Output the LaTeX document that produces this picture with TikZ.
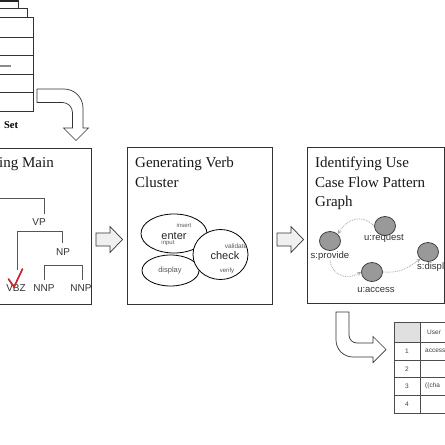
\documentclass[tikz,border=0pt]{standalone}
\usepackage{fontspec}
\setmainfont{Liberation Serif}
\newfontfamily\sansf{Liberation Sans}
\usetikzlibrary{shapes.geometric,arrows.meta}
\definecolor{edgecol}{HTML}{333333}
\definecolor{treeline}{HTML}{555555}
\definecolor{chk}{HTML}{C0282D}
\tikzset{
  box/.style={draw=edgecol, line width=0.8pt},
  title/.style={anchor=base west, inner sep=0pt, font=\fontsize{15}{20}\selectfont, text=black!90},
  tlab/.style={inner sep=0pt, font=\sansf\fontsize{10}{11}\selectfont, text=black!80},
  tline/.style={draw=treeline, line width=0.6pt},
  oval/.style={ellipse, draw=black, line width=0.8pt, fill=white, inner sep=0pt},
  big/.style={inner sep=0pt, font=\sansf\fontsize{11}{12}\selectfont, text=black!85},
  small/.style={inner sep=0pt, font=\sansf\fontsize{6}{7}\selectfont, text=black!65},
  gnode/.style={ellipse, draw=black!75, fill=black!40, line width=0.8pt, minimum width=21pt, minimum height=19pt, inner sep=0pt},
  glab/.style={inner sep=0pt, font=\sansf\fontsize{9.5}{10}\selectfont, text=black!80},
  flow/.style={draw=black!35, densely dotted, line width=0.8pt, -{Stealth[open,length=4pt,width=4pt]}},
  hollow/.style={draw=black!80, line width=0.7pt, fill=white},
  blockarr/.style={draw=black!80, line width=0.7pt, fill=black!6},
  cell/.style={inner sep=0pt, font=\sansf\fontsize{6.5}{7}\selectfont, text=black!75},
  tab/.style={draw=black!70, line width=0.6pt},
  stackline/.style={draw=edgecol, line width=0.8pt}
}
\begin{document}
\begin{tikzpicture}[x=1pt,y=-1pt]
\useasboundingbox (0,0) rectangle (445,445);
\fill[white] (0,0) rectangle (445,445);
\clip (0,0) rectangle (445,445);

% document stack
\fill[black!85] (-2,-2) rectangle (18,2);
\draw[stackline] (18,0) -- (18,8);
\draw[stackline] (-2,8) -- (27,8) -- (27,17.5);
\draw[stackline] (-2,17.5) -- (33,17.5) -- (33,111) -- (-2,111);
\foreach \yy in {37,55.5,74,92.5} \draw[stackline] (-2,\yy) -- (33,\yy);
\fill[black!45] (-2,64.8) rectangle (11,67.2);
\node[inner sep=0pt, font=\bfseries\fontsize{10.5}{11}\selectfont] (setlab) at (11,125) {Set};

% curved hollow arrow 1
\draw[hollow] (37,89) -- (64,89) .. controls (74.5,89) and (83,97.5) .. (83,108) -- (83,128) -- (88.5,128) -- (76,140.5) -- (63.5,128) -- (72.5,128) -- (72.5,112.5) .. controls (72.5,107) and (68,102.5) .. (62.5,102.5) -- (37,102.5) -- cycle;

% box 1
\draw[box] (-5,148) rectangle (91,304);
\node[title] (t1) at (-1,167) {ing Main};
\node[tlab] (vp) at (39,222) {VP};
\node[tlab] (np) at (63,252) {NP};
\node[tlab] (vbz) at (16,288) {VBZ};
\node[tlab] (nnp1) at (44,288) {NNP};
\node[tlab] (nnp2) at (81,288) {NNP};
\draw[tline] (-5,198) -- (44,198) -- (44,214);
\draw[tline] (17,270) -- (17,231) -- (62,231) -- (62,243);
\draw[tline] (44,280) -- (44,265) -- (82,265) -- (82,280);
\draw[chk, line width=1.7pt, line cap=round] (8.5,279) -- (14,287) -- (22.5,269);

% block arrows
\draw[blockarr] (96,233) -- (110,233) -- (110,226.5) -- (122.5,239.5) -- (110,252.5) -- (110,246) -- (96,246) -- cycle;
\draw[blockarr] (277,233) -- (291,233) -- (291,226.5) -- (303.5,239.5) -- (291,252.5) -- (291,246) -- (277,246) -- cycle;

% box 2
\draw[box] (127,147) rectangle (272,304);
\node[title] (t2a) at (135,167) {Generating Verb};
\node[title] (t2b) at (135,187) {Cluster};
\node[oval, minimum width=66pt, minimum height=39pt] (enter) at (174,233.5) {};
\node[oval, minimum width=57pt, minimum height=31pt] (disp) at (170.5,270.5) {};
\node[oval, minimum width=55pt, minimum height=50pt] (check) at (220.5,254.5) {};
\node[small] (insert) at (184,225.5) {insert};
\node[big] (enterl) at (174,235.5) {enter};
\node[small] (input) at (168,243.3) {input};
\node[small, font=\sansf\fontsize{6.5}{7}\selectfont] (valid) at (236,246) {validate};
\node[big] (checkl) at (225,256) {check};
\node[small] (verify) at (227,271) {verify};
\node[small, font=\sansf\fontsize{7.5}{8}\selectfont] (displ) at (170,271) {display};

% box 3
\draw[box] (307,147) rectangle (444.3,303.5);
\node[title] (t3a) at (315,167) {Identifying Use};
\node[title] (t3b) at (315,187) {Case Flow Pattern};
\node[title] (t3c) at (315,206) {Graph};
\node[gnode] (req) at (385,226) {};
\node[gnode] (prov) at (330,241) {};
\node[gnode] (acc) at (372,272) {};
\node[gnode] (sdisp) at (428,252) {};
\node[glab] (reql) at (384,238) {u:request};
\node[glab] (provl) at (330,256) {s:provide};
\node[glab] (accl) at (376,290) {u:access};
\node[glab, anchor=west] (sdispl) at (417,267) {s:display};
\draw[flow] (req.west) .. controls (362,214) and (348,218) .. (prov.north east);
\draw[flow] (provl.south) .. controls (333,277) and (348,280) .. (acc.west);
\draw[flow] (acc.east) .. controls (398,273) and (405,270) .. (sdisp.south west);

% curved hollow arrow 2
\draw[hollow] (336,312) -- (336,340) .. controls (336,349.4) and (343.6,357) .. (353,357) -- (373,357) -- (373,362.5) -- (386,349.5) -- (373,336.5) -- (373,343) -- (357,343) .. controls (352.6,343) and (349,339.4) .. (349,335) -- (349,312) -- cycle;

% table
\fill[black!12] (394,322) rectangle (420,342);
\draw[tab] (394,322) rectangle (470,413);
\draw[tab] (420,322) -- (420,413);
\foreach \yy in {342,360,377,395} \draw[tab] (394,\yy) -- (470,\yy);
\node[cell, anchor=west] (h2) at (427,332) {User};
\node[cell] (r1) at (407,351) {1};
\node[cell] (r2) at (407,369) {2};
\node[cell] (r3) at (407,386) {3};
\node[cell] (r4) at (407,404) {4};
\node[cell, anchor=west] (c1) at (425,351) {access};
\node[cell, anchor=west] (c3) at (425,386) {((cha};
\end{tikzpicture}
\end{document}
